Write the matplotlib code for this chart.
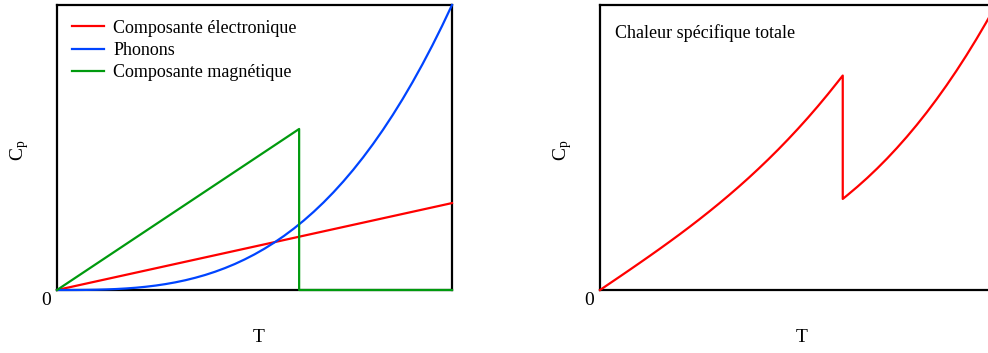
import matplotlib
matplotlib.use('Agg')
import matplotlib.pyplot as plt

plt.rcParams['font.family'] = ['Liberation Serif', 'DejaVu Serif']
plt.rcParams['mathtext.fontset'] = 'custom'
plt.rcParams['mathtext.rm'] = 'Liberation Serif'

# temperature points (T normalised to 1 at the right edge)
t_vals = [0.0, 0.025, 0.05, 0.075, 0.10, 0.125, 0.15, 0.175, 0.20, 0.225, 0.25, 0.275, 0.30,
          0.325, 0.35, 0.375, 0.40, 0.425, 0.45, 0.475, 0.50, 0.525, 0.55, 0.575, 0.60,
          0.625, 0.65, 0.675, 0.70, 0.725, 0.75, 0.775, 0.80, 0.825, 0.85, 0.875, 0.90,
          0.925, 0.95, 0.975, 1.0]
phonons = [0.0, 0.00002, 0.0001, 0.0004, 0.001, 0.002, 0.0034, 0.0054, 0.008, 0.0114, 0.0156, 0.0208, 0.027,
           0.0343, 0.0429, 0.0527, 0.064, 0.0768, 0.0911, 0.1072, 0.125, 0.1447, 0.1664, 0.1901, 0.216,
           0.2441, 0.2746, 0.3075, 0.343, 0.3811, 0.4219, 0.4655, 0.512, 0.5615, 0.6141, 0.6699, 0.729,
           0.7915, 0.8574, 0.9269, 1.0]

# electronic part is a straight line
t_el = [0.0, 1.0]
electronic = [0.0, 0.305]

# magnetic part: rises up to the transition then drops to zero
t_mag = [0.0, 0.613, 0.613, 1.0]
magnetic = [0.0, 0.565, 0.0, 0.0]

# total specific heat
t_tot = [0.0, 0.025, 0.05, 0.075, 0.10, 0.125, 0.15, 0.175, 0.20, 0.225, 0.25, 0.275, 0.30,
         0.325, 0.35, 0.375, 0.40, 0.425, 0.45, 0.475, 0.50, 0.525, 0.55, 0.575, 0.60, 0.613,
         0.613, 0.625, 0.65, 0.675, 0.70, 0.725, 0.75, 0.775, 0.80, 0.825, 0.85, 0.875, 0.90,
         0.925, 0.95, 0.975, 1.0]
total = [0.0, 0.0307, 0.0614, 0.0924, 0.1237, 0.1553, 0.1874, 0.2201, 0.2533, 0.2874, 0.3223, 0.3581, 0.395,
         0.433, 0.4722, 0.5127, 0.5547, 0.5981, 0.6431, 0.6899, 0.7384, 0.7887, 0.8411, 0.8955, 0.952, 0.982,
         0.417, 0.4347, 0.4729, 0.5134, 0.5565, 0.6022, 0.6507, 0.7019, 0.756, 0.8131, 0.8734, 0.9368, 1.0035,
         1.0736, 1.1472, 1.2243, 1.305]

red = '#ff0000'
blue = '#0044ff'
green = '#009a0e'

fig = plt.figure(figsize=(9.88, 3.53), dpi=100)
ax1 = fig.add_axes([57/988, 63/353, 395/988, 285/353])
ax2 = fig.add_axes([600/988, 63/353, 396/988, 285/353])

ax1.plot(t_el, electronic, color=red, lw=1.6, label='Composante électronique', clip_on=False, zorder=3)
ax1.plot(t_vals, phonons, color=blue, lw=1.6, label='Phonons', clip_on=False, zorder=3)
ax1.plot(t_mag, magnetic, color=green, lw=1.6, label='Composante magnétique', clip_on=False, zorder=4)
ax1.set_ylim(0, 1.0)
ax1.legend(loc='upper left', frameon=False, fontsize=13, handlelength=1.8,
           handletextpad=0.5, labelspacing=0.28, borderaxespad=0.42)

ax2.plot(t_tot, total, color=red, lw=1.6, clip_on=False, zorder=3)
ax2.set_ylim(0, 1.305)
ax2.text(0.038, 0.902, 'Chaleur spécifique totale', transform=ax2.transAxes,
         fontsize=13, va='center', ha='left')

for ax in (ax1, ax2):
    ax.set_xlim(0, 1.0)
    ax.set_xticks([])
    ax.set_yticks([])
    for s in ax.spines.values():
        s.set_linewidth(1.6)
    ax.annotate('0', xy=(0, 0), xycoords='axes fraction', xytext=(-7.5, -7.5),
                textcoords='offset points', ha='center', va='center', fontsize=14)
    ax.set_xlabel('T', fontsize=14)
    ax.xaxis.set_label_coords(0.51, -0.168)
    ax.xaxis.label.set_va('center')
    ax.set_ylabel(r'$\mathregular{C_p}$', fontsize=14)
    ax.yaxis.set_label_coords(-0.094, 0.491)
    ax.yaxis.label.set_va('center')

fig.savefig('out.png', dpi=100)
